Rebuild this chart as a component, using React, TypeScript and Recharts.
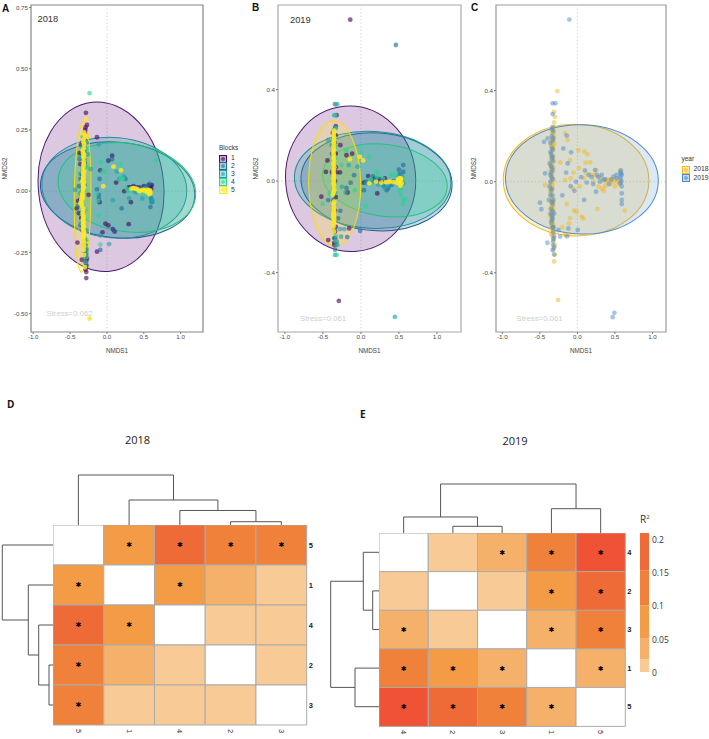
import {
  BarChart,
  Bar,
  Cell,
  LabelList,
  ReferenceArea,
  ReferenceLine,
  Scatter,
  ScatterChart,
  XAxis,
  YAxis,
} from 'recharts';

type Pair = [number, number];

const blockNames = ['1', '2', '3', '4', '5'];
const blockColors = ['#47065f', '#1f6a9c', '#1fa3a3', '#2fd490', '#fde725'];
const blockFills = ['#701a85', '#1f6a9c', '#1fa3a3', '#2fd490', '#fde725'];
const blockStrokes = ['#4a1a6b', '#1f6090', '#1d8f96', '#22c47c', '#f7e000'];
const blockOpacity = [0.62, 0.62, 0.62, 0.62, 0.85];
const yearNames = ['2018', '2019'];
const yearColors = ['#f2b81f', '#4f8ccb'];
const yearOpacity = [0.5, 0.5];

// panel A
const a1: Pair[] = [[-.285,.32],[-.27,.27],[-.295,.25],[-.135,.22],[-.37,.155],[-.31,.13],[.07,.145],[.02,.125],[-.09,.085],[-.10,-.045],[.125,.035],[.235,0],[.295,.015],[.325,-.045],[.295,-.135],[-.02,-.133],[.02,-.14],[-.06,-.168],[.08,-.155],[.105,-.165],[-.135,-.247],[-.40,-.21],[-.34,-.28],[-.28,-.355],[-.28,-.33],[-.28,-.305],[-.27,-.275],[-.41,-.07],[-.36,-.035],[-.25,-.015],[.61,.025],[.565,.025],[.5,.02],[.36,.02],[-.34,.07],[-.36,.11],[-.33,.2],[-.31,.22],[-.35,-.11],[-.30,-.2],[-.32,.03],[-.33,-.16],[.32,.015],[.40,.015],[-.29,.26],[-.3,.24],[-.35,.19],[-.34,.155],[-.29,-.32],[-.29,-.29],[-.28,-.285],[-.29,-.265],[-.38,-.09],[-.39,-.04],[.59,.02],[.44,.015],[.6,.01]];
const a2: Pair[] = [[-.38,.02],[-.36,.05],[-.33,.09],[-.30,.17],[-.28,.2],[-.34,-.05],[-.37,-.09],[-.33,-.14],[-.3,-.25],[-.28,-.24],[-.135,.007],[-.1,.05],[-.11,-.015],[-.09,-.24],[.09,-.16],[.2,-.07],[.25,.05],[.34,.01],[.45,.01],[.58,.03],[.6,-.03],[.61,-.045],[.59,-.065],[.55,.02],[.02,.125],[.07,.13],[-.11,-.03],[-.28,-.3],[-.28,-.26],[-.3,.21],[-.37,.13],[-.34,.0],[-.39,-.06],[-.36,-.14],[-.29,-.22],[.38,.015],[.48,.005],[.53,.01],[-.3,.115]];
const a3: Pair[] = [[.03,-.216],[-.11,.19],[.08,-.037],[.135,.08],[-.22,.09],[-.26,.15],[-.3,.1],[-.34,.18],[-.36,-.01],[-.43,.005],[-.35,-.13],[-.3,-.22],[-.28,-.25],[-.09,-.18],[.17,.05],[.23,.06],[.28,.005],[.4,-.005],[.52,.005],[.58,0],[.6,-.04],[.62,-.04],[.3,-.03],[.48,-.03],[-.32,.05],[-.32,-.08],[-.37,.14],[-.36,.07],[-.3,.025],[-.36,-.05],[-.28,-.16],[-.28,-.235],[-.3,.16],[.37,0]];
const a4: Pair[] = [[-.235,.40],[-.09,-.218],[-.08,.12],[-.06,.08],[-.03,.08],[.18,.11],[.22,.05],[.19,.05],[-.14,-.01],[-.11,-.1],[-.12,-.04],[-.33,.22],[-.3,.18],[-.31,.13],[-.32,.03],[-.32,-.06],[-.32,-.13],[-.3,-.19],[-.29,-.29],[-.28,-.27],[.3,0],[.35,.01],[.42,0],[.52,.01],[.58,-.01],[.27,.01],[.665,.126],[-.29,.2],[-.28,.17],[-.27,.1],[-.3,.005],[-.29,-.075],[-.3,-.11],[-.28,-.2],[.45,.005],[.5,-.01],[.55,-.02]];
const a5: Pair[] = [[-.28,.295],[-.3,.22],[-.32,.21],[-.31,.19],[-.33,.165],[-.31,.15],[-.315,.12],[-.32,.1],[-.31,.08],[-.32,.06],[-.32,.05],[-.32,.04],[-.32,.03],[-.32,.02],[-.32,.01],[-.33,-.03],[-.34,-.05],[-.35,-.04],[-.32,-.07],[-.33,-.09],[-.32,-.11],[-.32,-.13],[-.32,-.14],[-.32,-.15],[-.32,-.16],[-.31,-.17],[-.32,-.19],[-.31,-.21],[-.3,-.31],[-.235,-.52],[-.05,.02],[.09,.1],[.19,.085],[.33,.01],[.39,.01],[.44,0],[.49,.005],[.52,0],[.55,-.005],[.57,0],[.58,-.01],[.56,.005],[-.31,.24],[-.33,.04],[-.315,.135],[-.325,.075],[-.33,-.02],[-.325,-.12],[-.32,-.18],[-.31,-.225],[-.305,.23],[-.32,.2],[-.315,.175],[-.325,.155],[-.32,.14],[-.315,.11],[-.325,.09],[-.315,.07],[-.32,.055],[-.325,.045],[-.315,.035],[-.325,.025],[-.315,.015],[-.325,.005],[-.33,-.005],[-.335,-.015],[-.345,-.03],[-.36,-.05],[-.34,-.06],[-.325,-.08],[-.325,-.1],[-.315,-.105],[-.325,-.115],[-.315,-.125],[-.325,-.135],[-.315,-.145],[-.325,-.155],[-.315,-.165],[-.32,-.175],[-.315,-.185],[-.32,-.2],[-.315,-.24],[-.31,-.26],[.36,.012],[.41,.008],[.46,.002],[.51,.003],[.54,.002],[.575,-.012],[.585,.002],[.59,-.006]];

// panel B
const b1: Pair[] = [[-.14,.706],[-.29,-.524],[-.32,.288],[-.52,-.068],[-.44,.09],[-.46,.04],[-.27,.157],[-.275,.038],[-.32,.038],[-.43,-.258],[-.175,-.05],[-.155,-.207],[-.115,.12],[-.19,.113],[.096,.022],[.04,-.007],[.215,-.054],[.315,.012],[.25,.004],[-.34,.23],[-.33,.2],[-.35,.16],[-.33,.12],[-.33,.06],[-.34,0],[-.33,-.07],[-.34,-.13],[-.33,-.2],[-.35,-.27],[-.34,-.25],[-.33,.24],[-.37,.21],[-.38,.04],[-.36,-.03],[-.35,-.28],[-.34,-.22],[.17,.01],[.28,.0],[.21,.007]];
const b2: Pair[] = [[.46,.595],[-.34,.336],[.557,.07],[.557,.04],[-.27,-.13],[.04,-.04],[-.09,.026],[-.135,-.007],[-.19,-.03],[.16,.02],[.34,-.04],[.51,.03],[.07,-.003],[-.34,-.3],[-.32,-.265],[-.18,-.245],[-.01,-.218],[-.36,-.083],[-.43,-.083],[-.36,.09],[-.34,.165],[.2,.012],[.4,-.017],[-.3,-.163],[-.37,.03],[-.34,.2],[.14,.005],[.24,.01],[.3,-.02],[.36,-.03],[.43,.0],[.5,.05],[-.35,-.25],[-.38,.12],[-.35,-.21]];
const b3: Pair[] = [[.447,-.594],[-.31,.336],[-.35,.288],[-.34,-.323],[-.275,-.21],[-.22,-.21],[-.26,-.243],[-.16,.07],[-.045,.063],[-.25,-.025],[-.43,.18],[-.385,.157],[.34,-.025],[.07,-.01],[.557,-.01],[.16,0],[.425,-.01],[-.2,-.05],[-.31,-.28],[-.34,-.05],[-.34,.23],[-.37,.18],[-.33,-.28],[.23,-.015],[.31,-.03],[.49,.02],[.54,.02]];
const b4: Pair[] = [[-.32,-.323],[-.5,-.1],[-.41,-.054],[.11,.106],[.01,.124],[-.19,.135],[-.255,.07],[.557,-.083],[.58,-.078],[.557,-.1],[.205,.04],[.4,.026],[.21,.019],[.066,-.11],[.47,.02],[.51,-.04],[-.34,.288],[-.08,-.04],[-.36,.22],[-.33,.15],[-.36,.05],[-.35,-.05],[-.33,-.24],[-.34,.1],[-.33,.23],[-.33,-.26],[-.4,-.06],[.52,-.06],[.53,-.03],[.55,.01],[.44,.03],[.29,.01],[.13,.01],[-.35,-.01]];
const b5: Pair[] = [[.03,.09],[-.145,.095],[.11,-.01],[.27,-.007],[.38,-.003],[.47,-.007],[.51,-.003],[.535,-.01],[.51,.012],[.5,0],[.52,.004],[.52,-.02],[-.013,.106],[-.35,.22],[-.36,.2],[-.35,.19],[-.36,.17],[-.36,.15],[-.36,.13],[-.36,.12],[-.36,.1],[-.36,.08],[-.36,.07],[-.36,.05],[-.36,.04],[-.36,.025],[-.36,.01],[-.36,-.01],[-.36,-.03],[-.36,-.05],[-.37,-.06],[-.35,-.09],[-.36,-.1],[-.36,-.14],[-.36,-.15],[-.36,-.16],[-.355,-.17],[-.36,-.19],[-.36,-.2],[-.355,-.22],[-.355,.21],[-.355,.18],[-.35,.16],[-.355,.14],[-.355,.11],[-.355,.09],[-.35,.06],[-.355,.03],[-.355,.015],[-.355,0],[-.355,-.02],[-.35,-.04],[-.355,-.115],[-.355,-.125],[-.35,-.135],[-.355,-.145],[-.355,-.155],[-.35,-.165],[-.355,-.18],[.49,.008],[.505,-.012],[.525,.012],[.43,-.005],[.33,-.005],[.2,-.002]];

// panel C
const c2018: Pair[] = [[-.267,.398],[-.31,.307],[-.3,.285],[-.258,-.519],[.63,-.127],[.267,-.12],[-.044,-.127],[-.01,-.132],[.058,-.153],[.08,-.162],[-.098,-.16],[-.11,-.183],[-.142,-.098],[-.164,.212],[-.129,.183],[.013,.139],[.093,.132],[.133,.121],[.169,.085],[.11,.083],[-.098,.095],[-.23,.085],[-.164,.007],[.115,.037],[.213,0],[.28,-.022],[.324,-.03],[.435,.007],[.48,0],[.524,0],[.569,.05],[-.164,-.234],[-.12,-.234],[-.31,-.35],[-.3,-.32],[-.43,-.015],[-.31,.26],[-.32,.23],[-.33,.21],[-.34,.19],[-.31,.17],[-.33,.15],[-.34,.13],[-.32,.11],[-.35,.09],[-.33,.07],[-.36,.05],[-.34,.03],[-.32,.01],[-.35,-.01],[-.33,-.03],[-.36,-.05],[-.34,-.07],[-.32,-.09],[-.35,-.11],[-.33,-.13],[-.36,-.15],[-.34,-.17],[-.32,-.19],[-.33,-.21],[-.35,-.23],[-.31,-.25],[-.33,-.27],[.25,.05],[.3,.02],[.37,-.02],[.4,.01],[.35,-.04],[-.05,.04],[.02,.06],[-.09,.015],[-.06,-.03],[.5,-.02],[.56,-.01],[-.32,.24],[-.34,.17],[-.32,.14],[-.35,.11],[-.32,.06],[-.35,.02],[-.33,-.01],[-.34,-.09],[-.32,-.12],[-.35,-.14],[-.33,-.18],[-.32,-.22],[-.33,-.24],[-.32,-.3],[-.33,.22],[-.31,.2],[-.33,.18],[-.35,.16],[-.32,.16],[-.34,.11],[-.33,.09],[-.36,.07],[-.33,.04],[-.35,.0],[-.37,-.03],[-.34,-.04],[-.33,-.08],[-.35,-.09],[-.33,-.11],[-.36,-.12],[-.33,-.15],[-.35,-.16],[-.34,-.19],[-.35,-.2],[-.32,-.2],[-.33,-.23],[-.3,-.28],[.09,.015],[.18,.03],[.33,.005],[.38,0],[.44,-.01],[.52,.01],[.46,.01],[.22,.03],[.03,-.02],[-.2,-.2]];
const c2019: Pair[] = [[-.107,.712],[-.33,.344],[-.293,.344],[-.33,.297],[.47,-.595],[.493,-.576],[-.498,-.092],[-.48,-.121],[-.43,.037],[-.4,-.268],[-.23,-.241],[-.253,-.212],[-.12,-.205],[-.14,-.24],[.004,-.212],[-.142,.202],[-.187,.146],[-.084,.129],[-.129,.08],[-.018,0],[.089,-.08],[.236,.051],[.249,-.044],[.324,.03],[.569,.022],[.582,.037],[.569,-.007],[.591,-.051],[.591,-.08],[.591,-.098],[.48,.022],[.524,.015],[.124,-.004],[-.444,.175],[-.396,.19],[-.33,.24],[-.32,.22],[-.34,.2],[-.36,.17],[-.33,.14],[-.35,.12],[-.34,.1],[-.37,.08],[-.34,.06],[-.36,.03],[-.33,.01],[-.37,-.02],[-.35,-.04],[-.33,-.06],[-.38,-.08],[-.33,-.1],[-.35,-.12],[-.31,-.14],[-.33,-.16],[-.35,-.18],[-.32,-.22],[-.31,-.24],[-.32,-.26],[-.31,-.29],[-.31,-.32],[.05,.02],[.15,.03],[.58,.05],[.59,.03],[.58,.01],[.59,-.02],[.3,0],[.35,.01],[.42,-.01],[.26,.03],[-.04,-.04],[-.33,.18],[-.34,.15],[-.32,.09],[-.35,.04],[-.34,-.03],[-.32,-.08],[-.34,-.15],[-.33,-.2],[-.32,-.25],[-.34,.23],[-.32,.19],[-.36,.13],[-.33,.11],[-.35,.07],[-.33,.05],[-.36,.0],[-.34,.02],[-.36,-.06],[-.34,-.09],[-.36,-.14],[-.33,-.13],[-.34,-.17],[-.32,-.2],[-.32,-.28],[-.33,-.3],[-.09,-.02],[-.15,.04],[-.2,-.06],[.19,.02],[.28,.02],[.37,.01],[.45,.01],[.52,.03],[.57,.04],[.585,.0],[.1,.05],[.21,-.01]];

// ellipses: centre x, centre y, half width, half height, tilt in degrees
const ellipsesA = [[-.08,.018,.85,.347,-6],[.145,.005,1.05,.195,6],[.10,.014,.985,.205,5],[.27,.015,.94,.18,9],[-.33,-.023,.113,.308,.7]];
const ellipsesB = [[-.135,.01,.855,.318,-5],[.205,-.003,.995,.214,4],[.155,.005,1.03,.212,3],[.315,.003,.825,.157,8],[-.345,-.01,.342,.274,-1]];
const ellipsesC = [[-.018,.007,.97,.245,1],[.06,.01,1.018,.24,2]];

const xTicks = [-1, -0.5, 0, 0.5, 1];
const yTicksA = [0.75, 0.5, 0.25, 0, -0.25, -0.5];
const yTicksBC = [0.4, 0, -0.4];

// heatmaps
const rowsD = ['5', '1', '4', '2', '3'];
const rowsE = ['4', '2', '3', '1', '5'];
const r2D = [
  [null, 0.08, 0.18, 0.13, 0.13],
  [0.08, null, 0.08, 0.04, 0.01],
  [0.18, 0.08, null, 0.01, 0.01],
  [0.13, 0.04, 0.01, null, 0.01],
  [0.13, 0.01, 0.01, 0.01, null],
];
const sigD = [
  [0, 1, 1, 1, 1],
  [1, 0, 1, 0, 0],
  [1, 1, 0, 0, 0],
  [1, 0, 0, 0, 0],
  [1, 0, 0, 0, 0],
];
const r2E = [
  [null, 0.01, 0.04, 0.13, 0.205],
  [0.01, null, 0.01, 0.08, 0.18],
  [0.04, 0.01, null, 0.04, 0.13],
  [0.13, 0.08, 0.04, null, 0.04],
  [0.205, 0.18, 0.13, 0.04, null],
];
const sigE = [
  [0, 0, 1, 1, 1],
  [0, 0, 0, 1, 1],
  [1, 0, 0, 1, 1],
  [1, 1, 1, 0, 1],
  [1, 1, 1, 1, 0],
];

// dendrogram merges: position a, position b, merge height, height under a, height under b
const topLinksD = [[3.5,4.5,3.3,0,0],[2.5,4,14.5,0,3.3],[1.5,3.25,25,0,14.5],[.5,2.375,50,0,25]];
const leftLinksD = [[3.5,4.5,4,0,0],[2.5,4,14.3,0,4],[1.5,3.25,24.7,0,14.3],[.5,2.375,50.7,0,24.7]];
const topLinksE = [[1.5,2.5,6.7,0,0],[.5,2,16,0,6.7],[3.5,4.5,24.3,0,0],[1.25,4,49,16,24.3]];
const leftLinksE = [[1.5,2.5,6.3,0,0],[.5,2,15.7,0,6.3],[3.5,4.5,24,0,0],[1.25,4,48.3,15.7,24]];

const colorStops = [0.019, 0.031, 0.05, 0.052, 0.0565];
const colorBarTicks = [0, 0.05, 0.1, 0.15, 0.2];

const stepColor = (v: number | null) => {
  if (v === null) return '#ffffff';
  if (v < 0.025) return '#f8ca96';
  if (v < 0.05) return '#f5b06a';
  if (v < 0.1) return '#f39b45';
  if (v < 0.15) return '#f0813a';
  if (v < 0.2) return '#ee6a36';
  return '#ef5235';
};
const barColors = ['#f8ca96', '#f5b06a', '#f39b45', '#f0813a', '#ee6a36'];

const sans = '"Liberation Sans", Arial, sans-serif';
const open = '"Open Sans", sans-serif';

const Txt = ({ x, y, size, color = '#222', bold = false, font = sans, children }: any) => (
  <div
    style={{
      position: 'absolute',
      left: x,
      top: y,
      fontSize: size,
      lineHeight: 1,
      color,
      fontFamily: font,
      fontWeight: bold ? 700 : 400,
      whiteSpace: 'nowrap',
    }}
  >
    {children}
  </div>
);

const toPoints = (pairs: Pair[]) => pairs.map(([x, y]) => ({ x, y }));

const Dot = (props: any) => (
  <circle cx={props.cx} cy={props.cy} r={2.4} fill={props.fill} fillOpacity={props.fillOpacity} />
);

const Panel = ({ box, yWidth, xDomain, yDomain, yTicks, digits, series, ellipses, colors, fills, strokes, opacities, frame }: any) => {
  const plotW = box.right - box.left;
  const plotH = box.bottom - box.top;
  const pxX = plotW / (xDomain[1] - xDomain[0]);
  const pxY = plotH / (yDomain[1] - yDomain[0]);
  const ellipseShape = (fill: string, stroke: string, opacity: number) => (props: any) => {
    const { cx, cy, payload } = props;
    return (
      <ellipse
        cx={cx}
        cy={cy}
        rx={payload.rx * pxX}
        ry={payload.ry * pxY}
        fill={fill}
        fillOpacity={opacity}
        stroke={stroke}
        strokeWidth={1}
        transform={`rotate(${payload.angle} ${cx} ${cy})`}
      />
    );
  };
  return (
    <div style={{ position: 'absolute', left: box.left - yWidth, top: 0 }}>
      <ScatterChart
        width={plotW + yWidth + 8}
        height={box.bottom + 30}
        margin={{ top: box.top, right: 8, bottom: 0, left: 0 }}
      >
        <XAxis
          type="number"
          dataKey="x"
          domain={xDomain}
          ticks={xTicks}
          interval={0}
          height={30}
          tick={{ fontSize: 6.2, fill: '#4d4d4d', fontFamily: sans }}
          tickFormatter={(v: number) => v.toFixed(1)}
          tickSize={2}
          tickMargin={1}
          axisLine={false}
          tickLine={{ stroke: '#777' }}
          label={{ value: 'NMDS1', position: 'insideBottom', offset: 9, style: { fontSize: 6.3, fill: '#444', fontFamily: sans } }}
        />
        <YAxis
          type="number"
          dataKey="y"
          domain={yDomain}
          ticks={yTicks}
          interval={0}
          width={yWidth}
          tick={{ fontSize: 6.2, fill: '#4d4d4d', fontFamily: sans }}
          tickFormatter={(v: number) => v.toFixed(digits)}
          tickSize={2}
          tickMargin={1}
          axisLine={false}
          tickLine={{ stroke: '#777' }}
          label={{ value: 'NMDS2', angle: -90, position: 'insideLeft', offset: 4, style: { fontSize: 6.3, fill: '#444', fontFamily: sans, textAnchor: 'middle' } }}
        />
        {ellipses.map((e: number[], i: number) => (
          <Scatter
            key={`e${i}`}
            data={[{ x: e[0], y: e[1], rx: e[2], ry: e[3], angle: e[4] }]}
            isAnimationActive={false}
            shape={ellipseShape(fills[i], strokes[i], series.length > 2 ? 0.24 : 0.2)}
          />
        ))}
        <ReferenceLine x={0} stroke="#d9d9d9" strokeDasharray="1.5 2" />
        <ReferenceLine y={0} stroke="#d9d9d9" strokeDasharray="1.5 2" />
        {series.map((s: Pair[], i: number) => (
          <Scatter
            key={`s${i}`}
            data={toPoints(s)}
            fill={colors[i]}
            fillOpacity={opacities[i]}
            shape={Dot}
            isAnimationActive={false}
          />
        ))}
        <ReferenceArea
          x1={xDomain[0]}
          x2={xDomain[1]}
          y1={yDomain[0]}
          y2={yDomain[1]}
          fill="none"
          stroke={frame}
          strokeWidth={1.2}
        />
      </ScatterChart>
    </div>
  );
};

const Swatches = ({ x, y, names, colors, step, title }: any) => (
  <>
    <Txt x={x} y={y - 10} size={6.5} color="#333">
      {title}
    </Txt>
    {names.map((n: string, i: number) => (
      <div key={n}>
        <div
          style={{
            position: 'absolute',
            left: x,
            top: y + i * step,
            width: 6,
            height: 6,
            border: `1.1px solid ${colors[i]}`,
            background: `${colors[i]}55`,
          }}
        >
          <div
            style={{
              position: 'absolute',
              left: 1,
              top: 1,
              width: 4,
              height: 4,
              borderRadius: '50%',
              background: `${colors[i]}99`,
            }}
          />
        </div>
        <Txt x={x + 12} y={y + i * step + 0.5} size={6.8} color="#333">
          {n}
        </Txt>
      </div>
    ))}
  </>
);

const StarLabel = (sig: number[][], col: number) => (props: any) => {
  const { x, y, width, height, index } = props;
  if (!sig[index][col]) return null;
  return (
    <text
      x={x + width / 2}
      y={y + height / 2 + 2.5}
      textAnchor="middle"
      fontSize={7}
      fontFamily="DejaVu Sans"
      fill="#000"
    >
      ✱
    </text>
  );
};

const Heatmap = ({ left, top, w, h, rows, r2, sig }: any) => {
  const data = rows.map((row: string) => ({ row, c0: 1, c1: 1, c2: 1, c3: 1, c4: 1 }));
  return (
    <div style={{ position: 'absolute', left, top }}>
      <BarChart
        layout="vertical"
        width={w + 20}
        height={h + 14}
        data={data}
        barCategoryGap={0}
        margin={{ top: 0, right: 0, bottom: 0, left: 0 }}
      >
        <XAxis
          type="number"
          domain={[0, 5]}
          ticks={[0.5, 1.5, 2.5, 3.5, 4.5]}
          interval={0}
          height={14}
          axisLine={false}
          tickLine={false}
          tick={(p: any) => (
            <text
              x={p.x}
              y={p.y - 4}
              transform={`rotate(90 ${p.x} ${p.y - 4})`}
              fontSize={7.5}
              fill="#333"
              fontFamily={sans}
              dominantBaseline="central"
            >
              {rows[p.index]}
            </text>
          )}
        />
        <YAxis
          type="category"
          dataKey="row"
          orientation="right"
          width={20}
          axisLine={false}
          tickLine={false}
          tickSize={0}
          tickMargin={2}
          tick={{ fontSize: 7.5, fill: '#222', fontFamily: sans, fontWeight: 700 }}
        />
        {[0, 1, 2, 3, 4].map((col) => (
          <Bar key={col} dataKey={`c${col}`} stackId="a" isAnimationActive={false}>
            {rows.map((_: string, i: number) => (
              <Cell key={i} fill={stepColor(r2[i][col])} stroke="#ababab" strokeWidth={1} />
            ))}
            <LabelList dataKey={`c${col}`} content={StarLabel(sig, col)} />
          </Bar>
        ))}
      </BarChart>
    </div>
  );
};

const Dendrogram = ({ left, top, w, h, links, size, side }: any) => {
  const isTop = side === 'top';
  return (
    <div style={{ position: 'absolute', left, top }}>
      <ScatterChart width={w} height={h} margin={{ top: 0, right: 0, bottom: 0, left: 0 }}>
        <XAxis type="number" dataKey="x" hide domain={isTop ? [0, 5] : [size, 0]} allowDataOverflow />
        <YAxis type="number" dataKey="y" hide domain={isTop ? [0, size] : [0, 5]} reversed={!isTop} allowDataOverflow />
        {links.map((l: number[], i: number) => {
          const pts: Pair[] = [[l[0], l[3]], [l[0], l[2]], [l[1], l[2]], [l[1], l[4]]];
          const data = pts.map(([p, v]) => (isTop ? { x: p, y: v } : { x: v, y: p }));
          return (
            <Scatter
              key={i}
              data={data}
              line={{ stroke: '#555', strokeWidth: 1 }}
              shape={() => <g />}
              isAnimationActive={false}
            />
          );
        })}
      </ScatterChart>
    </div>
  );
};

const ColorBar = () => {
  const keys = colorStops.map((_, i) => `s${i}`);
  const row: any = { name: 'R2' };
  colorStops.forEach((v, i) => (row[keys[i]] = v));
  return (
    <div style={{ position: 'absolute', left: 639.7, top: 532.7 }}>
      <BarChart
        width={42}
        height={147}
        data={[row]}
        barCategoryGap={0}
        margin={{ top: 0, right: 0, bottom: 8, left: 0 }}
      >
        <XAxis dataKey="name" hide />
        <YAxis
          orientation="right"
          type="number"
          domain={[0, 0.2085]}
          ticks={colorBarTicks}
          interval={0}
          width={33}
          axisLine={false}
          tickLine={false}
          tickSize={0}
          tickMargin={3}
          tick={{ fontSize: 8.5, fill: '#333', fontFamily: open, dy: 1 }}
          tickFormatter={(v: number) => String(v)}
        />
        {keys.map((k, i) => (
          <Bar key={k} dataKey={k} stackId="a" fill={barColors[i]} isAnimationActive={false} />
        ))}
      </BarChart>
    </div>
  );
};

export default function App() {
  return (
    <div style={{ position: 'absolute', left: 0, top: 0, width: 709, height: 739, background: '#fff', overflow: 'hidden' }}>
      <Panel
        box={{ left: 31, right: 203, top: 5, bottom: 332 }}
        yWidth={30}
        xDomain={[-1.03, 1.303]}
        yDomain={[-0.575, 0.76]}
        yTicks={yTicksA}
        digits={2}
        series={[a1, a2, a3, a4, a5]}
        ellipses={ellipsesA}
        colors={blockColors}
        fills={blockFills}
        strokes={blockStrokes}
        opacities={blockOpacity}
        frame="#858585"
      />
      <Panel
        box={{ left: 278, right: 461, top: 5, bottom: 332 }}
        yWidth={26}
        xDomain={[-1.09, 1.316]}
        yDomain={[-0.66, 0.77]}
        yTicks={yTicksBC}
        digits={1}
        series={[b1, b2, b3, b4, b5]}
        ellipses={ellipsesB}
        colors={blockColors}
        fills={blockFills}
        strokes={blockStrokes}
        opacities={blockOpacity}
        frame="#a8a8a8"
      />
      <Panel
        box={{ left: 496, right: 666, top: 5, bottom: 332 }}
        yWidth={26}
        xDomain={[-1.084, 1.18]}
        yDomain={[-0.66, 0.776]}
        yTicks={yTicksBC}
        digits={1}
        series={[c2018, c2019]}
        ellipses={ellipsesC}
        colors={yearColors}
        fills={yearColors}
        strokes={yearColors}
        opacities={yearOpacity}
        frame="#999999"
      />

      <Txt x={2} y={4} size={10} bold color="#111">A</Txt>
      <Txt x={252} y={3} size={10} bold color="#111">B</Txt>
      <Txt x={471} y={3} size={10} bold color="#111">C</Txt>
      <Txt x={7} y={399} size={10} bold font={open} color="#111">D</Txt>
      <Txt x={360} y={409} size={10} bold font={open} color="#111">E</Txt>

      <Txt x={37.5} y={15} size={9.3} color="#333">2018</Txt>
      <Txt x={290} y={16} size={9.3} color="#333">2019</Txt>
      <Txt x={46.5} y={310} size={7.8} color="#cfcfcf">Stress=0.062</Txt>
      <Txt x={300} y={315} size={7.8} color="#cfcfcf">Stress=0.061</Txt>
      <Txt x={516.5} y={315} size={7.8} color="#cfcfcf">Stress=0.061</Txt>

      <Swatches x={219} y={154.5} names={blockNames} colors={blockColors} step={7.9} title="Blocks" />
      <Swatches x={681.5} y={165.5} names={yearNames} colors={yearColors} step={8.8} title="year" />

      <Txt x={125} y={434} size={11} font={open} color="#222">2018</Txt>
      <Txt x={502.5} y={435} size={11} font={open} color="#222">2019</Txt>

      <Dendrogram left={53.3} top={473} w={253.7} h={52} links={topLinksD} size={52} side="top" />
      <Dendrogram left={0.3} top={525} w={53} h={200} links={leftLinksD} size={53} side="left" />
      <Heatmap left={53.3} top={525} w={253.7} h={200} rows={rowsD} r2={r2D} sig={sigD} />

      <Dendrogram left={379} top={481.3} w={246.3} h={52} links={topLinksE} size={52} side="top" />
      <Dendrogram left={327} top={533.3} w={52} h={193} links={leftLinksE} size={52} side="left" />
      <Heatmap left={379} top={533.3} w={246.3} h={193} rows={rowsE} r2={r2E} sig={sigE} />

      <Txt x={640} y={514} size={10} font={open} color="#333">
        R<sup style={{ fontSize: 6 }}>2</sup>
      </Txt>
      <ColorBar />
    </div>
  );
}
